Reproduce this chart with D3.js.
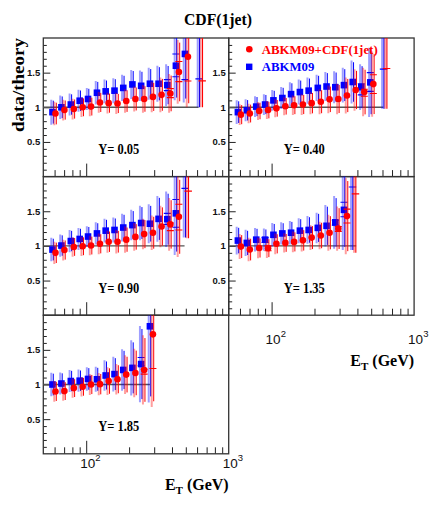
<!DOCTYPE html>
<html><head><meta charset="utf-8">
<script src="https://cdn.jsdelivr.net/npm/d3@7"></script>
<style>html,body{margin:0;padding:0;background:#fff;} svg{display:block;}</style>
</head><body>
<script>
// ---------- DATA ----------
const chartTitle = "CDF(1jet)";
const yTitle = "data/theory";
const legendLabels = ["ABKM09+CDF(1jet)", "ABKM09"];
const rapidityLabels = ["Y= 0.05", "Y= 0.40", "Y= 0.90", "Y= 1.35", "Y= 1.85"];
const etBins = [58, 67, 78, 90, 103, 119, 137, 158, 182, 211, 243, 280, 322, 371, 426, 493];
const yMajorTicks = [0.5, 1, 1.5];
const xMajorTicks = [100, 1000];
const xTickExponents = ["2", "3"];

const blueValues = [
  [0.93, 1.00, 1.04, 1.095, 1.12, 1.21, 1.23, 1.24, 1.28, 1.33, 1.31, 1.34, 1.34, 1.32, 1.60, 1.77],
  [0.93, 0.957, 1.01, 1.04, 1.10, 1.134, 1.19, 1.22, 1.24, 1.28, 1.30, 1.29, 1.32, 1.365, 1.29, 1.36],
  [0.947, 1.005, 1.07, 1.10, 1.135, 1.18, 1.22, 1.23, 1.265, 1.30, 1.33, 1.32, 1.39, 1.385, 1.47],
  [1.077, 1.043, 1.09, 1.09, 1.16, 1.18, 1.19, 1.22, 1.23, 1.26, 1.29, 1.34, 1.52],
  [1.0, 1.014, 1.05, 1.055, 1.08, 1.075, 1.13, 1.15, 1.21, 1.24, 1.295, 1.84]
];
const redValues = [
  [0.91, 0.96, 0.975, 1.00, 1.01, 1.07, 1.06, 1.055, 1.09, 1.12, 1.12, 1.15, 1.18, 1.20, 1.51, 1.73],
  [0.894, 0.91, 0.947, 0.96, 0.985, 1.015, 1.03, 1.04, 1.06, 1.08, 1.115, 1.12, 1.17, 1.25, 1.22, 1.335],
  [0.90, 0.94, 0.985, 0.995, 1.005, 1.03, 1.06, 1.06, 1.09, 1.13, 1.17, 1.19, 1.28, 1.31, 1.42],
  [0.99, 0.947, 0.97, 0.967, 1.03, 1.043, 1.058, 1.08, 1.12, 1.15, 1.19, 1.25, 1.43],
  [0.90, 0.905, 0.948, 0.967, 1.0, 1.005, 1.05, 1.076, 1.143, 1.167, 1.21, 1.724]
];
const blueErrors = [
  [0.18, 0.17, 0.16, 0.16, 0.16, 0.17, 0.17, 0.18, 0.19, 0.21, 0.22, 0.23, 0.26, 0.30, 0.50, 0.70],
  [0.17, 0.16, 0.15, 0.15, 0.15, 0.16, 0.17, 0.18, 0.19, 0.19, 0.21, 0.23, 0.25, 0.31, 0.33, 0.50],
  [0.17, 0.16, 0.16, 0.16, 0.15, 0.16, 0.17, 0.18, 0.20, 0.22, 0.25, 0.28, 0.33, 0.40, 0.60],
  [0.20, 0.19, 0.17, 0.16, 0.17, 0.16, 0.17, 0.18, 0.20, 0.22, 0.30, 0.38, 0.58],
  [0.17, 0.16, 0.16, 0.16, 0.17, 0.18, 0.22, 0.25, 0.30, 0.40, 0.55, 1.10]
];
const redErrors = [
  [0.17, 0.15, 0.15, 0.14, 0.14, 0.15, 0.15, 0.15, 0.17, 0.18, 0.20, 0.22, 0.25, 0.28, 0.46, 0.73],
  [0.15, 0.14, 0.13, 0.13, 0.13, 0.13, 0.14, 0.15, 0.16, 0.18, 0.20, 0.22, 0.26, 0.30, 0.35, 0.47],
  [0.16, 0.15, 0.14, 0.14, 0.14, 0.15, 0.16, 0.17, 0.19, 0.20, 0.22, 0.25, 0.30, 0.38, 0.58],
  [0.18, 0.17, 0.15, 0.14, 0.15, 0.14, 0.15, 0.16, 0.18, 0.20, 0.26, 0.32, 0.55],
  [0.15, 0.14, 0.14, 0.14, 0.15, 0.16, 0.20, 0.22, 0.28, 0.35, 0.50, 1.05]
];
// [bin index, lower cap, upper cap]
const blueCaps = [
  [[13, 1.24, 1.40], [14, 1.44, 1.77], [15, 1.40, 1.40]],
  [[14, 1.18, 1.34], [15, 1.23, 1.50]],
  [[13, 1.31, 1.47], [14, 1.27, 1.67]],
  [[3, 1.05, 1.12], [11, 1.30, 1.37], [12, 1.42, 1.63]],
  [[10, 1.27, 1.39]]
];
const redCaps = [
  [[13, 1.14, 1.27], [14, 1.37, 1.66], [15, 1.38, 1.38]],
  [[14, 1.16, 1.26], [15, 1.20, 1.47]],
  [[13, 1.22, 1.33], [14, 1.23, 1.60]],
  [[3, 0.93, 1.00], [11, 1.21, 1.28], [12, 1.33, 1.53]],
  [[10, 1.15, 1.22], [11, 1.23, 1.23]]
];
// last bin with only a central tick: [ET, value, lower end]
const blueTail = [[618, 1.41, 1.0], [608, 1.55, 0.98], [493, 1.83, 1.12], [368, 1.85, 0.94], null];
const redTail  = [[618, 1.38, 1.0], [608, 1.56, 0.98], [493, 1.79, 1.11], [368, 1.75, 0.90], null];
const unityEnd = [615, 608, 490, 392, 280];

// ---------- LAYOUT ----------
const W = 436, H = 518;
const left0 = 43.3, colW = 185.4, top0 = 38, rowH = 138.6;
const grid = [[0, 0], [1, 0], [0, 1], [1, 1], [0, 2]];
const BLUE = "#0000ff", RED = "#ff0000";
const SERIF = "'Liberation Serif','Times New Roman',serif";
const SANS = "'Liberation Sans',Arial,sans-serif";
const redShift = 3;

const svg = d3.select("body").append("svg").attr("width", W).attr("height", H)
  .style("background", "#fff");

const x = d3.scaleLog().domain([50, 1000]).range([0, colW]);
const y = d3.scaleLinear().domain([0, 2]).range([rowH, 0]);

const yMinor = d3.range(1, 20).map(d => d / 10).filter(v => !yMajorTicks.some(m => Math.abs(m - v) < 1e-6));
const xMinor = [60, 70, 80, 90, 200, 300, 400, 500, 600, 700, 800, 900];

const defs = svg.append("defs");
defs.append("clipPath").attr("id", "pclip").append("rect")
  .attr("x", 0).attr("y", 0).attr("width", colW).attr("height", rowH);

// ---------- PANELS ----------
grid.forEach(([c, r], p) => {
  const g = svg.append("g").attr("transform", `translate(${left0 + c * colW},${top0 + r * rowH})`);

  const ya = g.append("g")
    .call(d3.axisLeft(y).tickValues(yMinor).tickSize(-3.5).tickFormat(""));
  const yb = g.append("g")
    .call(d3.axisLeft(y).tickValues(yMajorTicks).tickSize(-7).tickPadding(3).tickFormat(d3.format("")));
  const xa = g.append("g").attr("transform", `translate(0,${rowH})`)
    .call(d3.axisBottom(x).tickValues(xMinor).tickSize(-6.5).tickFormat(""));
  const xb = g.append("g").attr("transform", `translate(0,${rowH})`)
    .call(d3.axisBottom(x).tickValues([100]).tickSize(-13).tickFormat(""));
  [ya, yb, xa, xb].forEach(a => {
    a.select(".domain").remove();
    a.selectAll("line").attr("stroke", "#222").attr("stroke-width", 1);
  });
  yb.selectAll("text").attr("font-family", SANS).attr("font-size", 9.5).attr("font-weight", "bold").attr("fill", "#111");

  g.append("rect").attr("x", 0).attr("y", 0).attr("width", colW).attr("height", rowH)
    .attr("fill", "none").attr("stroke", "#333").attr("stroke-width", 1.3);

  g.append("line").attr("x1", 0).attr("x2", x(unityEnd[p])).attr("y1", y(1)).attr("y2", y(1))
    .attr("stroke", "#555").attr("stroke-width", 1.4);

  const plot = g.append("g").attr("clip-path", "url(#pclip)");

  function drawSeries(vals, errs, caps, tail, color, shift, shape) {
    const pts = vals.map((v, i) => ({ cx: x(etBins[i]) + shift, v, e: errs[i] }));
    plot.append("g").selectAll("line").data(pts).join("line")
      .attr("x1", d => d.cx - 1.2).attr("x2", d => d.cx - 1.2)
      .attr("y1", d => y(d.v + d.e)).attr("y2", d => y(d.v - d.e))
      .attr("stroke", color).attr("stroke-opacity", 0.38).attr("stroke-width", 2);
    plot.append("g").selectAll("line").data(pts).join("line")
      .attr("x1", d => d.cx + 0.8).attr("x2", d => d.cx + 0.8)
      .attr("y1", d => y(d.v + d.e * 0.92)).attr("y2", d => y(d.v - d.e * 0.92))
      .attr("stroke", color).attr("stroke-width", 1);
    const capData = [];
    caps.forEach(([i, lo, hi]) => {
      const cx = x(etBins[i]) + shift;
      capData.push({ cx, v: lo });
      if (hi !== lo) capData.push({ cx, v: hi });
    });
    plot.append("g").selectAll("line").data(capData).join("line")
      .attr("x1", d => d.cx - 3.5).attr("x2", d => d.cx + 3.5)
      .attr("y1", d => y(d.v)).attr("y2", d => y(d.v))
      .attr("stroke", color).attr("stroke-width", 1.1);
    if (tail) {
      const [et, v, lo] = tail;
      const tx = x(et) + shift;
      plot.append("line").attr("x1", tx - 1.2).attr("x2", tx - 1.2).attr("y1", y(2.3)).attr("y2", y(lo))
        .attr("stroke", color).attr("stroke-opacity", 0.38).attr("stroke-width", 2);
      plot.append("line").attr("x1", tx + 0.6).attr("x2", tx + 0.6).attr("y1", y(2.3)).attr("y2", y(lo))
        .attr("stroke", color).attr("stroke-width", 1.1);
      plot.append("line").attr("x1", tx - 3.5).attr("x2", tx + 4).attr("y1", y(v)).attr("y2", y(v))
        .attr("stroke", color).attr("stroke-width", 1.2);
    }
    if (shape === "square") {
      plot.append("g").selectAll("rect").data(pts).join("rect")
        .attr("x", d => d.cx - 3.3).attr("y", d => y(d.v) - 3.3)
        .attr("width", 6.6).attr("height", 6.6).attr("fill", color);
    } else {
      plot.append("g").selectAll("circle").data(pts).join("circle")
        .attr("cx", d => d.cx).attr("cy", d => y(d.v)).attr("r", 3.3).attr("fill", color);
    }
  }

  drawSeries(blueValues[p], blueErrors[p], blueCaps[p], blueTail[p], BLUE, 0, "square");
  drawSeries(redValues[p], redErrors[p], redCaps[p], redTail[p], RED, redShift, "circle");

  g.append("text").attr("x", 55).attr("y", 116)
    .attr("font-family", SERIF).attr("font-weight", "bold").attr("font-size", 14.5)
    .attr("textLength", 41).attr("lengthAdjust", "spacingAndGlyphs")
    .attr("fill", "#000").text(rapidityLabels[p]);
});

// ---------- X TICK LABELS & TITLES ----------
function xLabels(panelIndex, baseline) {
  const [c] = grid[panelIndex];
  const ox = left0 + c * colW;
  xMajorTicks.forEach((t, k) => {
    const tx = svg.append("text").attr("x", ox + x(t) - 6).attr("y", baseline)
      .attr("font-family", SANS).attr("font-size", 13.5).attr("fill", "#111");
    tx.append("tspan").text("10");
    tx.append("tspan").attr("font-size", 9.5).attr("dy", -7).text(xTickExponents[k]);
  });
  const et = svg.append("text").attr("x", ox + colW).attr("y", baseline + 22)
    .attr("text-anchor", "end").attr("font-family", SERIF).attr("font-weight", "bold")
    .attr("font-size", 16).attr("fill", "#000");
  et.append("tspan").text("E");
  et.append("tspan").attr("font-size", 11).attr("dy", 4).text("T");
  et.append("tspan").attr("dy", -4).text(" (GeV)");
}
xLabels(3, 343.5);
xLabels(4, 467.5);

svg.append("text").attr("x", 218).attr("y", 25).attr("text-anchor", "middle")
  .attr("font-family", SERIF).attr("font-weight", "bold").attr("font-size", 16)
  .attr("textLength", 68).attr("lengthAdjust", "spacingAndGlyphs").text(chartTitle);

svg.append("text").attr("transform", "translate(24,85) rotate(-90)").attr("text-anchor", "middle")
  .attr("font-family", SERIF).attr("font-weight", "bold").attr("font-size", 17)
  .attr("textLength", 94).attr("lengthAdjust", "spacingAndGlyphs").text(yTitle);

const lg = svg.append("g");
lg.append("circle").attr("cx", 249.3).attr("cy", 49.3).attr("r", 3.3).attr("fill", RED);
lg.append("rect").attr("x", 246).attr("y", 63.6).attr("width", 6.4).attr("height", 6.4).attr("fill", BLUE);
lg.append("text").attr("x", 261.7).attr("y", 53.6).attr("font-family", SERIF).attr("font-weight", "bold")
  .attr("font-size", 13).attr("fill", RED).attr("textLength", 116).attr("lengthAdjust", "spacingAndGlyphs")
  .text(legendLabels[0]);
lg.append("text").attr("x", 261.7).attr("y", 70.8).attr("font-family", SERIF).attr("font-weight", "bold")
  .attr("font-size", 13).attr("fill", BLUE).attr("textLength", 52.6).attr("lengthAdjust", "spacingAndGlyphs")
  .text(legendLabels[1]);
</script>
</body></html>
